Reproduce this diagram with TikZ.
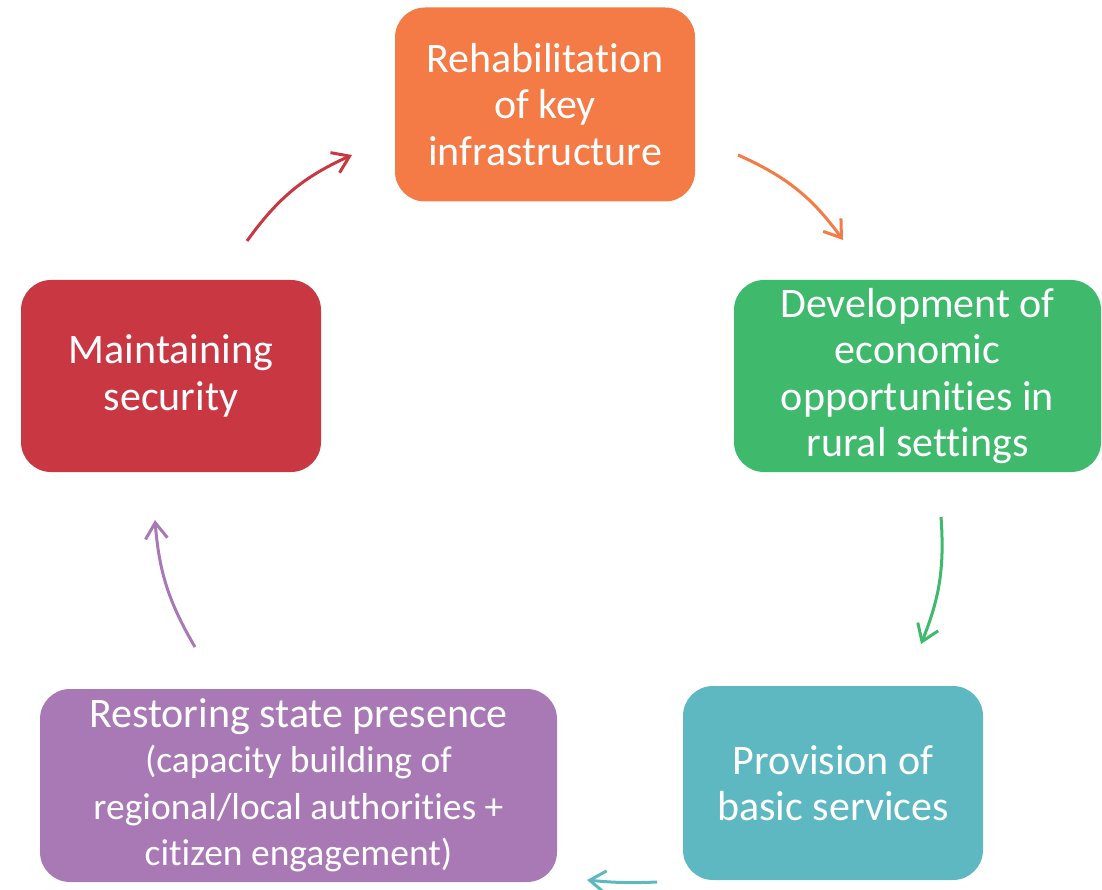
\documentclass[tikz,border=0pt]{standalone}
\usepackage{fontspec}
\setmainfont{Carlito}[RawFeature={-liga;-clig;-calt;-dlig}]
\usetikzlibrary{arrows.meta}
\definecolor{corange}{HTML}{F47A46}
\definecolor{cgreen}{HTML}{3FB96B}
\definecolor{cteal}{HTML}{5EB8C2}
\definecolor{cpurple}{HTML}{A979B6}
\definecolor{cred}{HTML}{C93743}
\begin{document}
\begin{tikzpicture}[x=1pt,y=-1pt,
  box/.style={rounded corners=30pt, text=white, align=center, inner sep=0pt,
    font=\fontsize{42}{46.5}\selectfont},
  arr/.style={line width=3pt, -{Straight Barb[length=16pt,width=22pt]}}]
\useasboundingbox (0,0) rectangle (1102,890);
\node[box, fill=corange, minimum width=300pt, minimum height=194pt] (rehab) at (545,104.5)
  {Rehabilitation\\of key\\infrastructure};
\node[box, fill=cgreen, minimum width=367pt, minimum height=192pt] (dev) at (917.5,376)
  {Development of\\economic\\opportunities in\\rural settings};
\node[box, fill=cteal, minimum width=300pt, minimum height=194pt] (prov) at (833,783)
  {Provision of\\basic services};
\node[box, fill=cpurple, minimum width=517pt, minimum height=193pt] (rest) at (298.5,785.5)
  {Restoring state presence\\[-1pt]
   \fontsize{37.5}{44}\selectfont (capacity building of\\
   \fontsize{37.5}{44}\selectfont regional/local authorities +\\
   \fontsize{37.5}{44}\selectfont citizen engagement)};
\node[box, fill=cred, minimum width=300pt, minimum height=192pt] (maint) at (171,376)
  {Maintaining\\security};
\coordinate (r1) at (247,241); \coordinate (r2) at (352,155);
\coordinate (o1) at (738,155); \coordinate (o2) at (843,240);
\coordinate (g1) at (941,517); \coordinate (g2) at (921,644);
\coordinate (t1) at (657,882); \coordinate (t2) at (587,880);
\coordinate (p1) at (195,647); \coordinate (p2) at (155,520);
\draw[arr, cred] (r1) to[bend left=15] (r2);
\draw[arr, corange] (o1) to[bend left=15] (o2);
\draw[arr, cgreen] (g1) to[bend left=13] (g2);
\draw[arr, cteal] (t1) to[bend left=4] (t2);
\draw[arr, cpurple] (p1) to[bend left=13] (p2);
\end{tikzpicture}
\end{document}
